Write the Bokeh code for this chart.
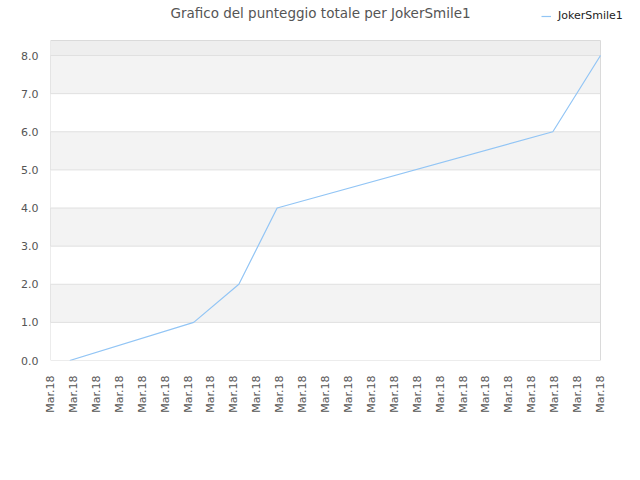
import math
from bokeh.plotting import figure
from bokeh.models import (FixedTicker, PrintfTickFormatter, BoxAnnotation, Legend, LegendItem, Range1d, Label)
from bokeh.embed import file_html
from bokeh.resources import INLINE

# Data (x in tick-step units of the time axis; 25 ticks labelled "Mar.18")
tick_positions = list(range(25))
tick_labels = ["Mar.18"] * 25
x_time = [0.84, 6.25, 8.22, 9.89, 21.92, 24.0]
punteggio = [0, 1, 2, 4, 6, 8]
y_ticks = [0, 1, 2, 3, 4, 5, 6, 7, 8]
series_name = "JokerSmile1"
title_text = "Grafico del punteggio totale per JokerSmile1"

# plot area extents in data units
X_MIN, X_MAX = 0, 24
Y_MIN, Y_TOP = 0, 8.393

W, H = 624, 464
LEFT, BOTTOM = 50, 104
frame_w = W - LEFT
frame_h = H - BOTTOM
px_per_x = 550 / (X_MAX - X_MIN)
px_per_y = 305 / 8.0

p = figure(width=W, height=H, output_backend="svg", toolbar_location=None,
           x_range=Range1d(X_MIN, X_MIN + frame_w / px_per_x),
           y_range=Range1d(Y_MIN, Y_MIN + frame_h / px_per_y),
           min_border_left=LEFT, min_border_right=0, min_border_top=0, min_border_bottom=BOTTOM)

p.outline_line_color = None
p.background_fill_color = "white"
p.border_fill_color = "white"
p.xgrid.grid_line_color = None
p.ygrid.grid_line_color = None

# Alternating bands
for lo in [1, 3, 5, 7]:
    p.add_layout(BoxAnnotation(left=X_MIN, right=X_MAX, bottom=lo, top=lo + 1,
                               fill_color="#f3f3f3", fill_alpha=1, line_alpha=0, level="underlay"))
p.add_layout(BoxAnnotation(left=X_MIN, right=X_MAX, bottom=8, top=Y_TOP,
                           fill_color="#eeeeee", fill_alpha=1, line_alpha=0, level="underlay"))
# horizontal grid lines (edges of the grey bands)
for lo in [1, 3, 5, 7]:
    p.add_layout(BoxAnnotation(left=X_MIN, right=X_MAX, bottom=lo, top=lo + 1,
                               fill_alpha=0, line_color="#e0e0e0", line_alpha=1,
                               line_width=1, level="underlay"))
# plot area outline
p.add_layout(BoxAnnotation(left=X_MIN, right=X_MAX, bottom=Y_MIN, top=Y_TOP,
                           fill_alpha=0, line_color="#dadada", line_alpha=1,
                           line_width=1, level="underlay"))

r = p.line(x_time, punteggio, line_color="#92c5f5", line_width=1.2)

p.yaxis.ticker = FixedTicker(ticks=y_ticks)
p.yaxis.formatter = PrintfTickFormatter(format="%.1f")
p.xaxis.ticker = FixedTicker(ticks=tick_positions)
p.xaxis.major_label_overrides = {i: lab for i, lab in zip(tick_positions, tick_labels)}
p.xaxis.major_label_orientation = math.pi / 2
for ax in (p.xaxis, p.yaxis):
    ax.axis_line_color = None
    ax.major_tick_line_color = None
    ax.minor_tick_line_color = None
    ax.major_label_text_font = "DejaVu Sans"
    ax.major_label_text_font_size = "11px"
    ax.major_label_text_color = "#555555"
p.yaxis.major_label_standoff = 6
p.xaxis.major_label_standoff = 9

p.add_layout(Label(x=320 - LEFT, y=frame_h - 12, x_units="screen", y_units="screen",
                   text=title_text, text_align="center", text_baseline="middle",
                   text_font="DejaVu Sans", text_font_size="13.5px", text_color="#555555"))

legend = Legend(items=[LegendItem(label=series_name, renderers=[r])],
                location=(541 - LEFT, frame_h - 22), orientation="horizontal",
                glyph_width=10, glyph_height=12, label_standoff=7, padding=0, margin=0,
                border_line_alpha=0, background_fill_alpha=0,
                label_text_font="DejaVu Sans", label_text_font_size="11px", label_text_color="#222222")
p.add_layout(legend, "center")

open("out.html", "w").write(file_html(p, INLINE))
